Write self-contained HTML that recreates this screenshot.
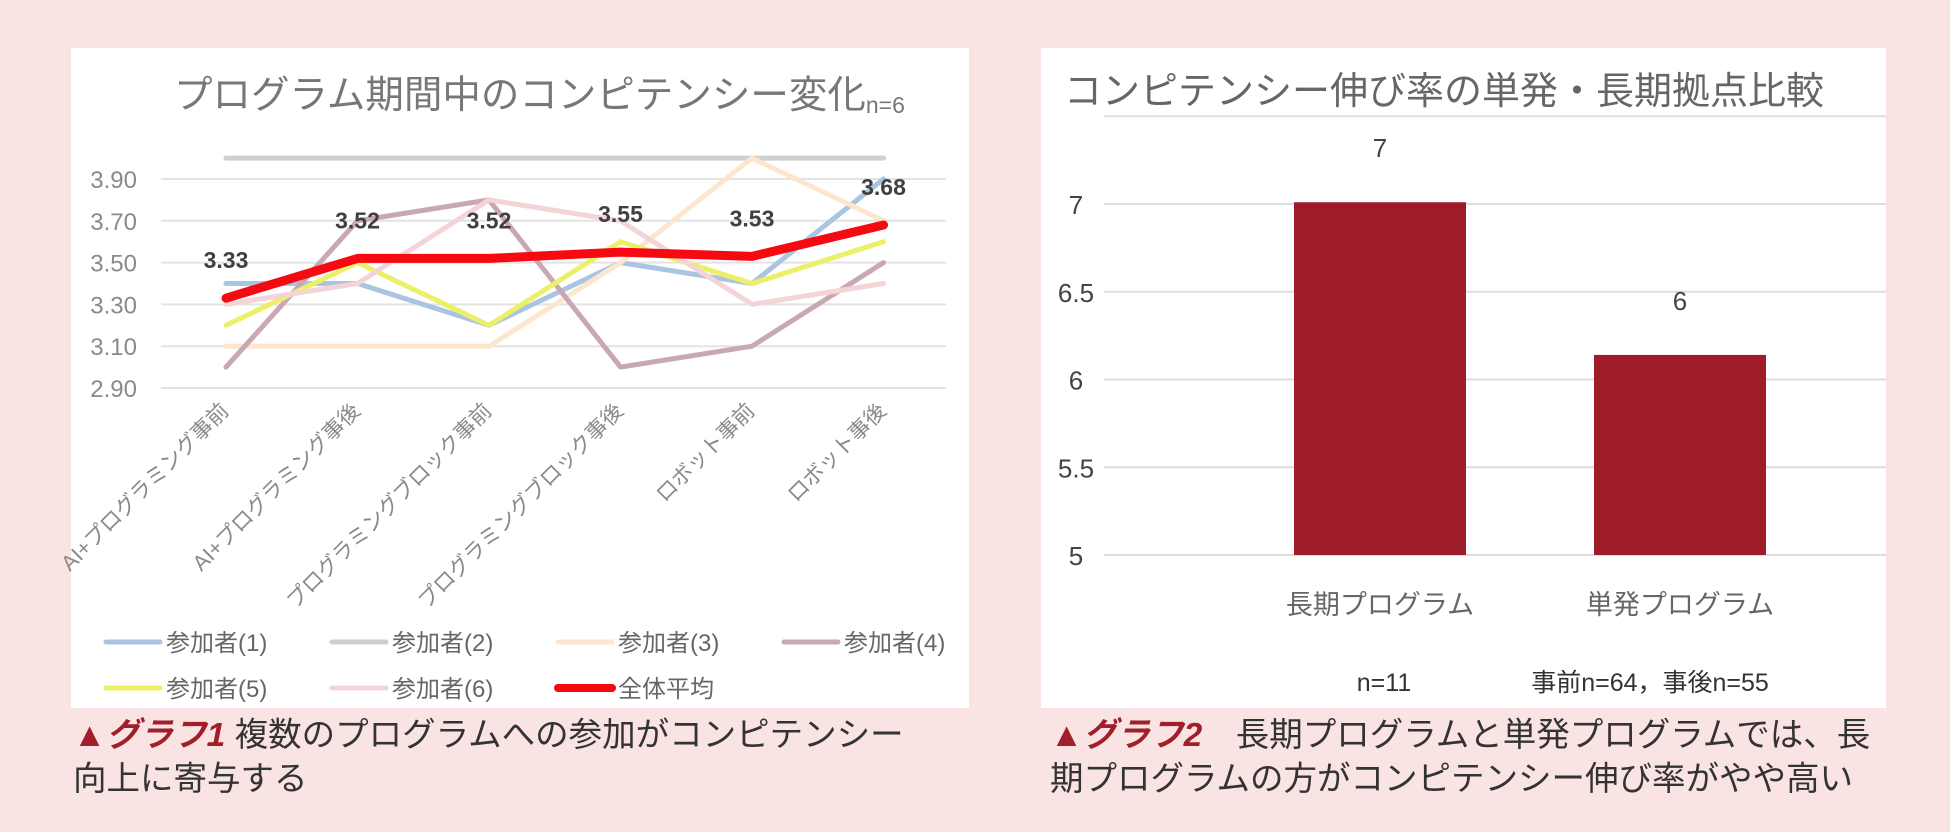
<!DOCTYPE html>
<html><head><meta charset="utf-8">
<style>
html,body{margin:0;padding:0;background:#f9e4e3;}
body{width:1950px;height:832px;position:relative;overflow:hidden;font-family:"Liberation Sans","Noto Sans CJK JP",sans-serif;}
.cap{position:absolute;font-size:33.5px;color:#333;line-height:44px;white-space:nowrap;}
.cap b{color:#a01f2b;font-style:italic;}
</style></head><body>
<svg width="1950" height="832" style="position:absolute;left:0;top:0" id="svg" xmlns="http://www.w3.org/2000/svg">
<rect x="71" y="48" width="898" height="660" fill="#fff"/>
<rect x="1041" y="48" width="845" height="660" fill="#fff"/>
<text x="174" y="108" font-size="38.5" fill="#777" font-family="Liberation Sans,Noto Sans CJK JP,sans-serif">プログラム期間中のコンピテンシー変化<tspan font-size="23" dy="5">n=6</tspan></text>
<text x="1064" y="104" font-size="38" fill="#666" font-family="Liberation Sans,Noto Sans CJK JP,sans-serif">コンピテンシー伸び率の単発・長期拠点比較</text>
<g id="g1"></g><g id="g2"></g>
</svg>
<div class="cap" style="left:73px;top:714px;"><b>▲グラフ1</b> 複数のプログラムへの参加がコンピテンシー<br>向上に寄与する</div>
<div class="cap" style="left:1050px;top:714px;"><b>▲グラフ2</b>　長期プログラムと単発プログラムでは、長<br>期プログラムの方がコンピテンシー伸び率がやや高い</div>
<script>
const categories=["AI+プログラミング事前","AI+プログラミング事後","プログラミングブロック事前","プログラミングブロック事後","ロボット事前","ロボット事後"];
const p1=[3.4,3.4,3.2,3.5,3.4,3.9];
const p2=[4.0,4.0,4.0,4.0,4.0,4.0];
const p3=[3.1,3.1,3.1,3.5,4.0,3.7];
const p4=[3.0,3.7,3.8,3.0,3.1,3.5];
const p5=[3.2,3.5,3.2,3.6,3.4,3.6];
const p6=[3.3,3.4,3.8,3.7,3.3,3.4];
const avg=[3.33,3.52,3.52,3.55,3.53,3.68];
const yTicks=[3.9,3.7,3.5,3.3,3.1,2.9];
const seriesNames=["参加者(1)","参加者(2)","参加者(3)","参加者(4)","参加者(5)","参加者(6)","全体平均"];
const barCats=["長期プログラム","単発プログラム"];
const barVals=[7.01,6.14];
const barLabels=["7","6"];
const barTicks=[7.5,7,6.5,6,5.5,5];
const barNotes=["n=11","事前n=64，事後n=55"];

const NS="http://www.w3.org/2000/svg";
function mk(p,tag,a,txt){const e=document.createElementNS(NS,tag);for(const k in a)e.setAttribute(k,a[k]);if(txt!==undefined)e.textContent=txt;p.appendChild(e);return e;}
const g1=document.getElementById('g1');
const X=i=>226+i*131.5;
const Y=v=>179+(3.9-v)*209;
yTicks.forEach(t=>{
 const l=mk(g1,'line',{x1:161,x2:946,y1:Y(t),y2:Y(t),stroke:'#e3e3e3','stroke-width':2});
 
 
 const tx=mk(g1,'text',{x:137,y:Y(t)+9,'text-anchor':'end','font-size':24,fill:'#8a8a8a'},t.toFixed(2));
 
 
});
categories.forEach((c,i)=>{
 const tx=mk(g1,'text',{x:X(i)+4,y:412,'text-anchor':'end','font-size':21.5,fill:'#8a8a8a',transform:`rotate(-45 ${X(i)+4} 412)`},c);
 
 
});
const series=[p1,p2,p3,p4,p5,p6,avg];
const colors=['#aac4e2','#cfcfcf','#fde6cd','#c9a8b3','#ecf068','#f4d4d7','#f50a12'];
const widths=[5,5,5,5,5,5,9];
series.forEach((s,k)=>{
 const pts=s.map((v,i)=>X(i)+','+Y(v)).join(' ');
 const pl=mk(g1,'polyline',{points:pts,fill:'none',stroke:colors[k],'stroke-width':widths[k],'stroke-linejoin':'round','stroke-linecap':'round'});
 
 
});
avg.forEach((v,i)=>{
 const tx=mk(g1,'text',{x:X(i),y:Y(v)-30,'text-anchor':'middle','font-size':23,'font-weight':'bold',fill:'#404040'},v.toFixed(2));
 
 
});
seriesNames.forEach((n,k)=>{
 const col=k%4,row=Math.floor(k/4);
 const x=106+col*226,y=642+row*46;
 const l=mk(g1,'line',{x1:x,x2:x+54,y1:y,y2:y,stroke:colors[k],'stroke-width':k==6?8:5,'stroke-linecap':'round'});
 
 
 const tx=mk(g1,'text',{x:x+60,y:y+9,'font-size':24,fill:'#666'},n);
 
 
});
const g2=document.getElementById('g2');
const BY=v=>555-(v-5)*175.5;
const BX=i=>1380+i*300;
barTicks.forEach(t=>{
 const l=mk(g2,'line',{x1:1104,x2:1886,y1:BY(t),y2:BY(t),stroke:'#dedede','stroke-width':2});
 
 
 if(t<7.5){
  const tx=mk(g2,'text',{x:1076,y:BY(t)+10,'text-anchor':'middle','font-size':26,fill:'#444'},String(t));
  
  
 }
});
barVals.forEach((v,i)=>{
 const r=mk(g2,'rect',{x:BX(i)-86,y:BY(v),width:172,height:BY(5)-BY(v),fill:'#9e1b2a'});
 
 
 const tx=mk(g2,'text',{x:BX(i),y:BY(v)-45,'text-anchor':'middle','font-size':26,fill:'#444'},barLabels[i]);
 
 
 const c=mk(g2,'text',{x:BX(i),y:614,'text-anchor':'middle','font-size':27,fill:'#666'},barCats[i]);
 
 
});
barNotes.forEach((n,i)=>{
 const tx=mk(g2,'text',{x:i==0?1384:1650,y:691,'text-anchor':'middle','font-size':25,fill:'#333'},n);
 
 
});
</script>
</body></html>
